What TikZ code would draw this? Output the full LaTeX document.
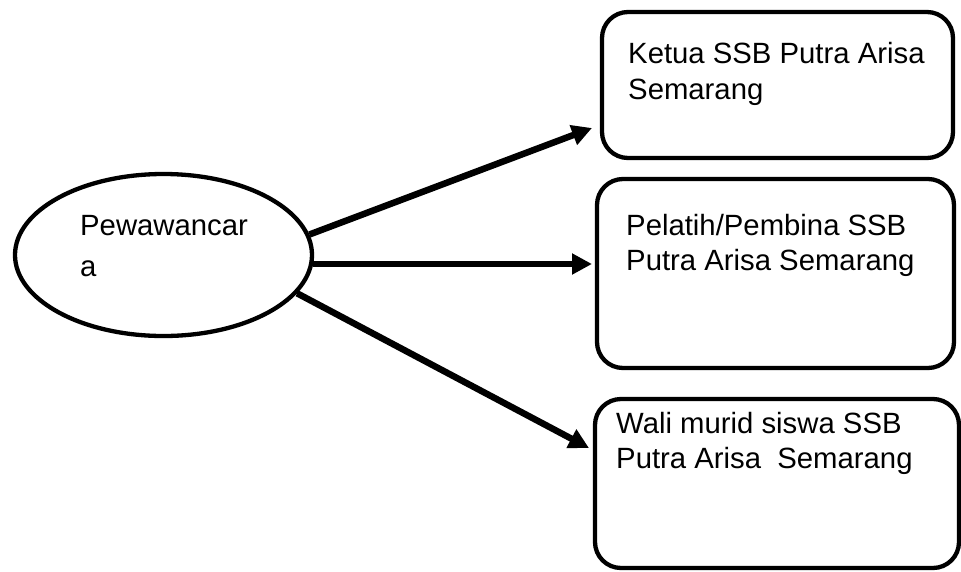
\documentclass[tikz,border=0pt]{standalone}
\usepackage{fontspec}
\setmainfont{Liberation Sans}
\usetikzlibrary{shapes.geometric,arrows.meta}
\tikzset{
  box/.style={draw, line width=4.3pt, rounded corners=26pt, inner sep=0pt},
  oval/.style={draw, ellipse, line width=4.3pt, inner sep=0pt, minimum width=297pt, minimum height=162pt},
  txt/.style={anchor=base west, inner sep=0pt, font=\fontsize{29.3}{35}\selectfont},
  conn/.style={line width=6.5pt, -{Triangle[length=20pt,width=20pt]}}
}
\begin{document}
\begin{tikzpicture}[x=1pt,y=-1pt]
\useasboundingbox (0,0) rectangle (961,571);
\node[oval] (ell) at (163.5,255) {};
\node[box, minimum width=351pt, minimum height=146pt] (b1) at (777.5,85) {};
\node[box, minimum width=357pt, minimum height=189pt] (b2) at (775.5,273.5) {};
\node[box, minimum width=364pt, minimum height=169pt] (b3) at (777,483.5) {};
\node[txt] (e1) at (80,235) {Pewawancar};
\node[txt] (e2) at (80,276) {a};
\node[txt] (k1) at (628,63) {Ketua SSB Putra Arisa};
\node[txt] (k2) at (628,99.5) {Semarang};
\node[txt] (p1) at (626,235) {Pelatih/Pembina SSB};
\node[txt] (p2) at (626,270) {Putra Arisa Semarang};
\node[txt] (w1) at (616,433) {Wali murid siswa SSB};
\node[txt] (w2) at (616,468) {Putra Arisa\ \ Semarang};
\coordinate (t1) at (592,128);
\coordinate (t2) at (592,264);
\coordinate (t3) at (589,448);
\draw[conn] (ell.8.8) -- (t1);
\draw[conn] (ell.-3.4 |- t2) -- (t2);
\draw[conn] (ell.-16.3) -- (t3);
\end{tikzpicture}
\end{document}
